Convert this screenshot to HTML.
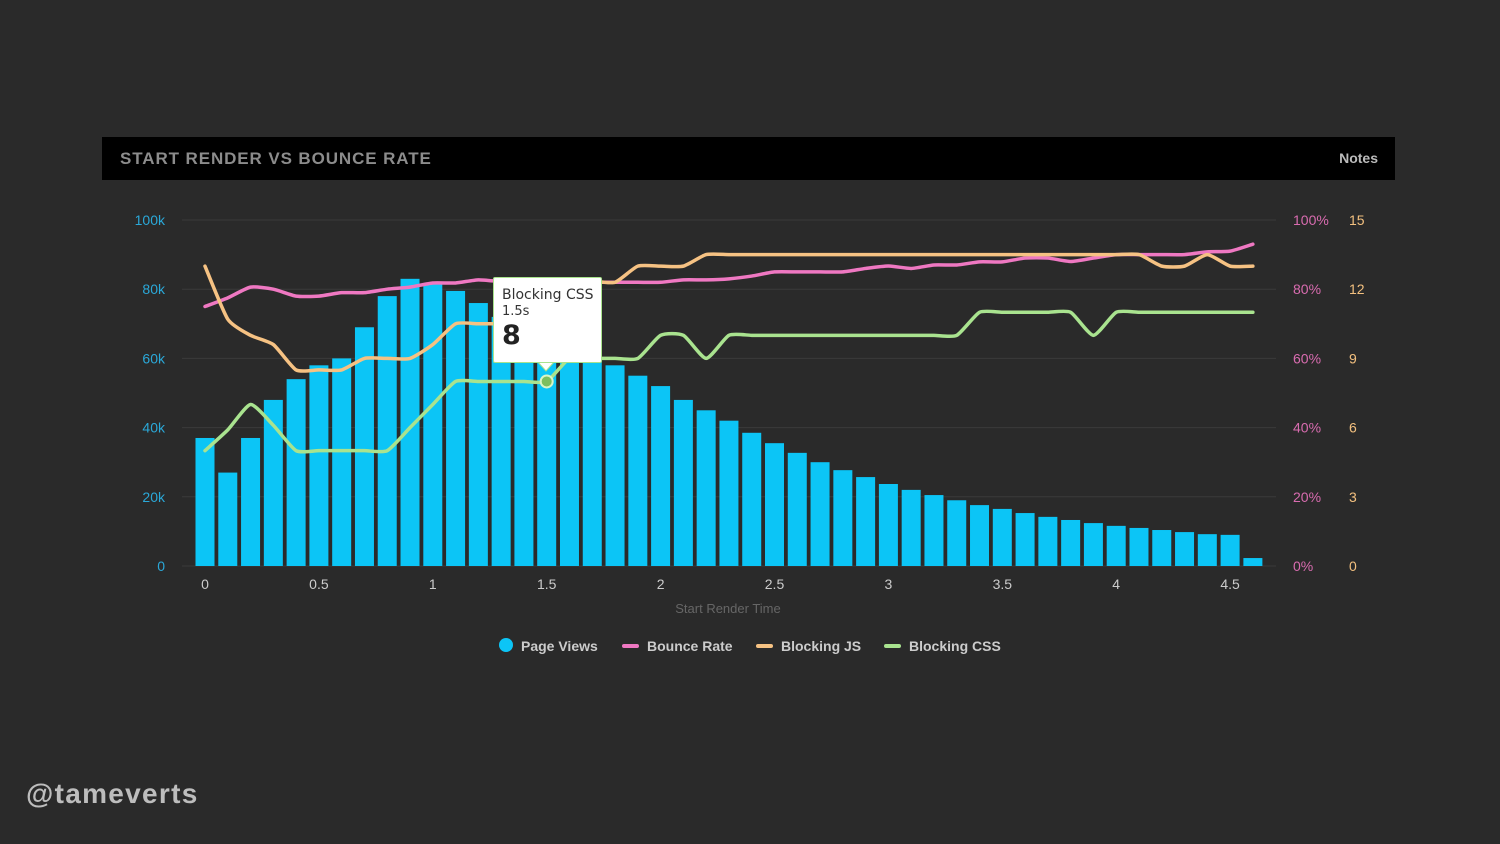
<!DOCTYPE html>
<html><head><meta charset="utf-8"><style>
body{margin:0;width:1500px;height:844px;background:#2a2a2a;overflow:hidden;font-family:"Liberation Sans",sans-serif;}
#hdr{position:absolute;left:102px;top:137px;width:1293px;height:43px;background:#000;}
#title{position:absolute;left:18px;top:12px;font-size:17px;font-weight:bold;color:#8c8c8c;letter-spacing:0.9px;}
#notes{position:absolute;right:17px;top:13px;font-size:14px;font-weight:bold;color:#bbb;}
#handle{position:absolute;left:26px;top:778px;font-size:28px;font-weight:bold;color:#bdbdbd;letter-spacing:1.3px;}
#tip{position:absolute;left:493px;top:277px;width:109px;height:86px;background:#fff;border:1px solid #a8e38c;border-radius:2px;box-sizing:border-box;}
</style></head><body>
<div id="hdr"><div id="title">START RENDER VS BOUNCE RATE</div><div id="notes">Notes</div></div>
<svg id="chart" width="1500" height="844" style="position:absolute;left:0;top:0"></svg>
<div id="tip">
<div style="position:absolute;left:8px;top:9px;font-size:14px;color:#333;font-family:'DejaVu Sans',sans-serif">Blocking CSS</div>
<div style="position:absolute;left:8px;top:26px;font-size:13px;color:#333;font-family:'DejaVu Sans',sans-serif">1.5s</div>
<div style="position:absolute;left:8px;top:42px;font-size:27px;font-weight:bold;color:#222;font-family:'DejaVu Sans',sans-serif">8</div>
</div>
<div id="handle">@tameverts</div>
<script>
const times=[0,0.1,0.2,0.3,0.4,0.5,0.6,0.7,0.8,0.9,1.0,1.1,1.2,1.3,1.4,1.5,1.6,1.7,1.8,1.9,2.0,2.1,2.2,2.3,2.4,2.5,2.6,2.7,2.8,2.9,3.0,3.1,3.2,3.3,3.4,3.5,3.6,3.7,3.8,3.9,4.0,4.1,4.2,4.3,4.4,4.5,4.6];
const pageViews=[37,27,37,48,54,58,60,69,78,83,81.5,79.5,76,72,68,65,63,61,58,55,52,48,45,42,38.5,35.5,32.7,30,27.7,25.7,23.7,22,20.5,19,17.6,16.5,15.3,14.2,13.3,12.4,11.6,11,10.4,9.8,9.2,9,2.3];
const bounceRate=[75,77.5,80.6,80,78,78,79,79,80,80.6,81.8,81.8,82.7,82.2,82,82,82,82,82,82,82,82.7,82.7,83,83.8,85,85,85,85,86,86.7,86,87,87,87.9,87.9,89,89,88,89,90,90,90,90,90.8,91,93];
const blockingJS=[13,10.7,10,9.6,8.5,8.5,8.5,9,9,9,9.6,10.5,10.5,10.5,10.5,11,11.5,12.3,12.3,13,13,13,13.5,13.5,13.5,13.5,13.5,13.5,13.5,13.5,13.5,13.5,13.5,13.5,13.5,13.5,13.5,13.5,13.5,13.5,13.5,13.5,13,13,13.5,13,13];
const blockingCSS=[5,5.9,7,6.1,5,5,5,5,5,6,7,8,8,8,8,8,9,9,9,9,10,10,9,10,10,10,10,10,10,10,10,10,10,10,11,11,11,11,11,10,11,11,11,11,11,11,11];
const xTicks=[0,0.5,1,1.5,2,2.5,3,3.5,4,4.5];
const leftTicks=[0,20,40,60,80,100];
const pctTicks=[0,20,40,60,80,100];
const cntTicks=[0,3,6,9,12,15];
const legendNames=["Page Views","Bounce Rate","Blocking JS","Blocking CSS"];
const C={pv:"#0cc5f6",br:"#ef78c2",js:"#f6c283",css:"#a9e38f"};
const svg=document.getElementById('chart');const NS="http://www.w3.org/2000/svg";
function mk(t,a){const e=document.createElementNS(NS,t);for(const k in a)e.setAttribute(k,a[k]);svg.appendChild(e);return e;}
const X=v=>205+v*227.8, Y0=566,H=346;
const yL=v=>Y0-v/100*H, yP=v=>Y0-v/100*H, yC=v=>Y0-v/15*H;
leftTicks.forEach((t,i)=>{
 const g=mk('line',{x1:182,x2:1276,y1:yL(t),y2:yL(t),stroke:'#3a3a3a','stroke-width':1});
 
 
 const l=mk('text',{x:165,y:yL(t)+5,'text-anchor':'end','font-size':14,fill:'#2aa8d8'});l.textContent=t?t+'k':'0';
 
 
 const p=mk('text',{x:1293,y:yL(t)+5,'font-size':14,fill:'#d96cb0'});p.textContent=pctTicks[i]+'%';
 
 
 const c=mk('text',{x:1349,y:yL(t)+5,'font-size':14,fill:'#f3c07f'});c.textContent=cntTicks[i];
 
 
});
xTicks.forEach(t=>{const l=mk('text',{x:X(t),y:589,'text-anchor':'middle','font-size':14,fill:'#ccc'});l.textContent=t;
 
 });
const xt=mk('text',{x:728,y:613,'text-anchor':'middle','font-size':13,fill:'#666'});xt.textContent='Start Render Time';


pageViews.forEach((v,i)=>{const b=mk('rect',{x:X(times[i])-9.5,y:yL(v),width:19,height:Y0-yL(v),fill:C.pv});
 
 });
function path(vals,fy){const p=vals.map((v,i)=>[X(times[i]),fy(v)]);let d=`M${p[0][0]},${p[0][1]}`;
 for(let i=0;i<p.length-1;i++){const a=p[Math.max(i-1,0)],b=p[i],c=p[i+1],e=p[Math.min(i+2,p.length-1)];
 const t=0.1;d+=` C${b[0]+(c[0]-a[0])*t},${b[1]+(c[1]-a[1])*t} ${c[0]-(e[0]-b[0])*t},${c[1]-(e[1]-b[1])*t} ${c[0]},${c[1]}`;}return d;}
[[bounceRate,yP,C.br,'bounce-rate-line'],[blockingJS,yC,C.js,'blocking-js-line'],[blockingCSS,yC,C.css,'blocking-css-line']].forEach(s=>{
 const l=mk('path',{d:path(s[0],s[1]),fill:'none',stroke:s[2],'stroke-width':3.5,'stroke-linecap':'round'});
 
 });
const m=mk('circle',{cx:X(1.5),cy:yC(blockingCSS[15]),r:6,fill:'#7cbf60',stroke:'#d8f5c8','stroke-width':2});


const ptr=mk('path',{d:`M537,361 L546,371 L555,361 Z`,fill:'#fff',stroke:'#a8e38c','stroke-width':1});


const lx=[506,630,764,892];
legendNames.forEach((n,i)=>{
 let s;
 if(i==0)s=mk('circle',{cx:lx[i],cy:645,r:7,fill:C.pv});
 else s=mk('rect',{x:lx[i]-8,y:644,width:17,height:4,rx:2,fill:[C.pv,C.br,C.js,C.css][i]});
 
 
 const t=mk('text',{x:lx[i]+(i==0?15:17),y:651,'font-size':14,'font-weight':'bold',fill:'#ccc'});t.textContent=n;
 
 
});
</script>
</body></html>
